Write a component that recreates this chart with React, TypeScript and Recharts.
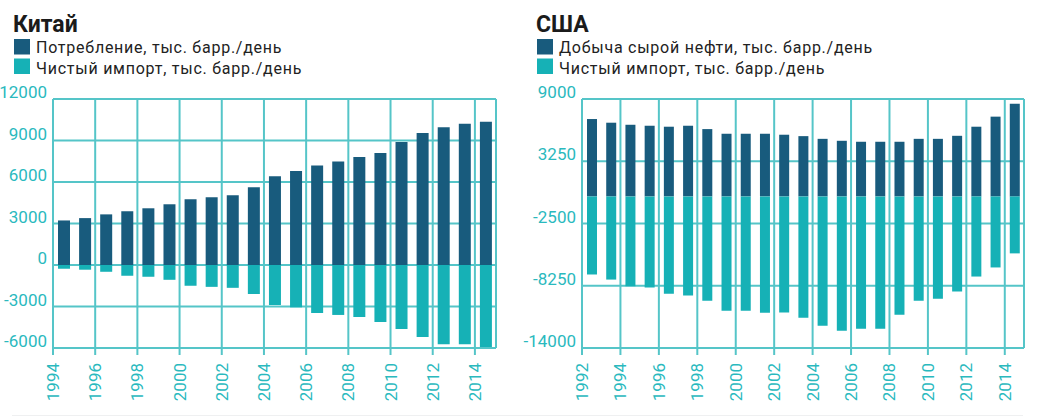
import React from "react";
import {
  BarChart,
  Bar,
  XAxis,
  YAxis,
  CartesianGrid,
  ReferenceLine,
} from "recharts";

// Китай, 1994–2014
const chinaYears = [1994, 1995, 1996, 1997, 1998, 1999, 2000, 2001, 2002, 2003, 2004, 2005, 2006, 2007, 2008, 2009, 2010, 2011, 2012, 2013, 2014];
const chinaConsumption = [3220, 3390, 3660, 3880, 4100, 4390, 4750, 4900, 5040, 5620, 6420, 6790, 7200, 7490, 7810, 8100, 8900, 9550, 9960, 10210, 10350];
const chinaNetImports = [-270, -340, -490, -780, -850, -1070, -1500, -1580, -1650, -2090, -2890, -3060, -3470, -3610, -3760, -4120, -4630, -5210, -5720, -5720, -5940];
const chinaYTicks = [-6000, -3000, 0, 3000, 6000, 9000, 12000];
const chinaXTicks = [1994, 1996, 1998, 2000, 2002, 2004, 2006, 2008, 2010, 2012, 2014];

// США, 1992–2014
const usYears = [1992, 1993, 1994, 1995, 1996, 1997, 1998, 1999, 2000, 2001, 2002, 2003, 2004, 2005, 2006, 2007, 2008, 2009, 2010, 2011, 2012, 2013, 2014];
const usProduction = [7150, 6810, 6620, 6530, 6440, 6530, 6220, 5790, 5790, 5790, 5700, 5570, 5320, 5140, 5050, 5050, 5050, 5320, 5320, 5600, 6440, 7370, 8570];
const usNetImports = [-7210, -7680, -8300, -8420, -8980, -9160, -9630, -10550, -10550, -10740, -10710, -11200, -11950, -12410, -12230, -12230, -10930, -9630, -9440, -8790, -7400, -6560, -5260];
const usYTicks = [-14000, -8250, -2500, 3250, 9000];
const usXTicks = [1992, 1994, 1996, 1998, 2000, 2002, 2004, 2006, 2008, 2010, 2012, 2014];

const DARK = "#185b7d";
const TEAL = "#16b1b6";
const GRID = "#55c5c8";
const TICK = "#2ab9be";
const FONT = "Roboto, sans-serif";

const YTick = (props: any) => {
  const { x, y, payload } = props;
  return (
    <text x={x} y={y - 1} textAnchor="end" fill={TICK} fontSize={17} fontFamily={FONT}>
      {payload.value}
    </text>
  );
};

const XTick = (props: any) => {
  const { x, y, payload } = props;
  return (
    <text
      x={x}
      y={y}
      transform={`rotate(-90, ${x}, ${y})`}
      textAnchor="end"
      dominantBaseline="central"
      fill={TICK}
      fontSize={17}
      fontFamily={FONT}
    >
      {payload.value}
    </text>
  );
};

interface PanelProps {
  years: number[];
  upper: number[];
  lower: number[];
  yTicks: number[];
  xTicks: number[];
  yWidth: number;
  width: number;
  marginRight: number;
  barSize: number;
}

function Panel({ years, upper, lower, yTicks, xTicks, yWidth, width, marginRight, barSize }: PanelProps) {
  const data = years.map((year, i) => ({ year, upper: upper[i], lower: lower[i] }));
  const first = years[0];
  const last = years[years.length - 1] + 1;
  return (
    <BarChart
      width={width}
      height={337}
      data={data}
      stackOffset="sign"
      margin={{ top: 19, right: marginRight, bottom: 9, left: 0 }}
    >
      <CartesianGrid xAxisId="num" stroke={GRID} strokeWidth={2} />
      <XAxis
        xAxisId="num"
        dataKey="year"
        type="number"
        domain={[first, last]}
        allowDataOverflow
        ticks={xTicks}
        interval={0}
        height={60}
        tickSize={7}
        tickMargin={8}
        axisLine={{ stroke: GRID, strokeWidth: 2 }}
        tickLine={{ stroke: GRID, strokeWidth: 2 }}
        tick={<XTick />}
      />
      <XAxis xAxisId="cat" dataKey="year" hide height={0} />
      <YAxis
        domain={[yTicks[0], yTicks[yTicks.length - 1]]}
        ticks={yTicks}
        interval={0}
        width={yWidth}
        tickLine={false}
        tickSize={0}
        tickMargin={6}
        axisLine={{ stroke: GRID, strokeWidth: 2 }}
        tick={<YTick />}
      />
      <ReferenceLine xAxisId="num" x={last} stroke={GRID} strokeWidth={2} />
      <Bar xAxisId="cat" dataKey="upper" stackId="a" fill={DARK} barSize={barSize} isAnimationActive={false} />
      <Bar xAxisId="cat" dataKey="lower" stackId="a" fill={TEAL} barSize={barSize} isAnimationActive={false} />
    </BarChart>
  );
}

function Header({ x, title, first, second }: { x: number; title: string; first: string; second: string }) {
  return (
    <g>
      <text x={x} y={31.5} fontSize={23} fontWeight={700} fill="#1b1b1b" fontFamily={FONT}>
        {title}
      </text>
      <rect x={x + 1} y={39} width={16} height={15.5} fill={DARK} />
      <rect x={x + 1} y={58.5} width={16} height={15.5} fill={TEAL} />
      <text x={x + 23} y={52.5} fontSize={16} fill="#222" fontFamily={FONT} letterSpacing={0.75}>
        {first}
      </text>
      <text x={x + 23} y={73.5} fontSize={16} fill="#222" fontFamily={FONT} letterSpacing={0.75}>
        {second}
      </text>
    </g>
  );
}

export default function App() {
  return (
    <div style={{ position: "absolute", left: 0, top: 0, width: 1044, height: 417, background: "#fff", overflow: "hidden" }}>
      <svg width={1044} height={80} style={{ position: "absolute", left: 0, top: 0 }}>
        <Header x={13} title="Китай" first="Потребление, тыс. барр./день" second="Чистый импорт, тыс. барр./день" />
        <Header x={536} title="США" first="Добыча сырой нефти, тыс. барр./день" second="Чистый импорт, тыс. барр./день" />
      </svg>
      <div style={{ position: "absolute", left: 0, top: 80 }}>
        <Panel
          years={chinaYears}
          upper={chinaConsumption}
          lower={chinaNetImports}
          yTicks={chinaYTicks}
          xTicks={chinaXTicks}
          yWidth={53}
          width={520}
          marginRight={24}
          barSize={12}
        />
      </div>
      <div style={{ position: "absolute", left: 520, top: 80 }}>
        <Panel
          years={usYears}
          upper={usProduction}
          lower={usNetImports}
          yTicks={usYTicks}
          xTicks={usXTicks}
          yWidth={62}
          width={524}
          marginRight={20}
          barSize={10}
        />
      </div>
      <div style={{ position: "absolute", left: 12, top: 415, width: 1011, height: 1, background: "#eff0f1" }} />
    </div>
  );
}
